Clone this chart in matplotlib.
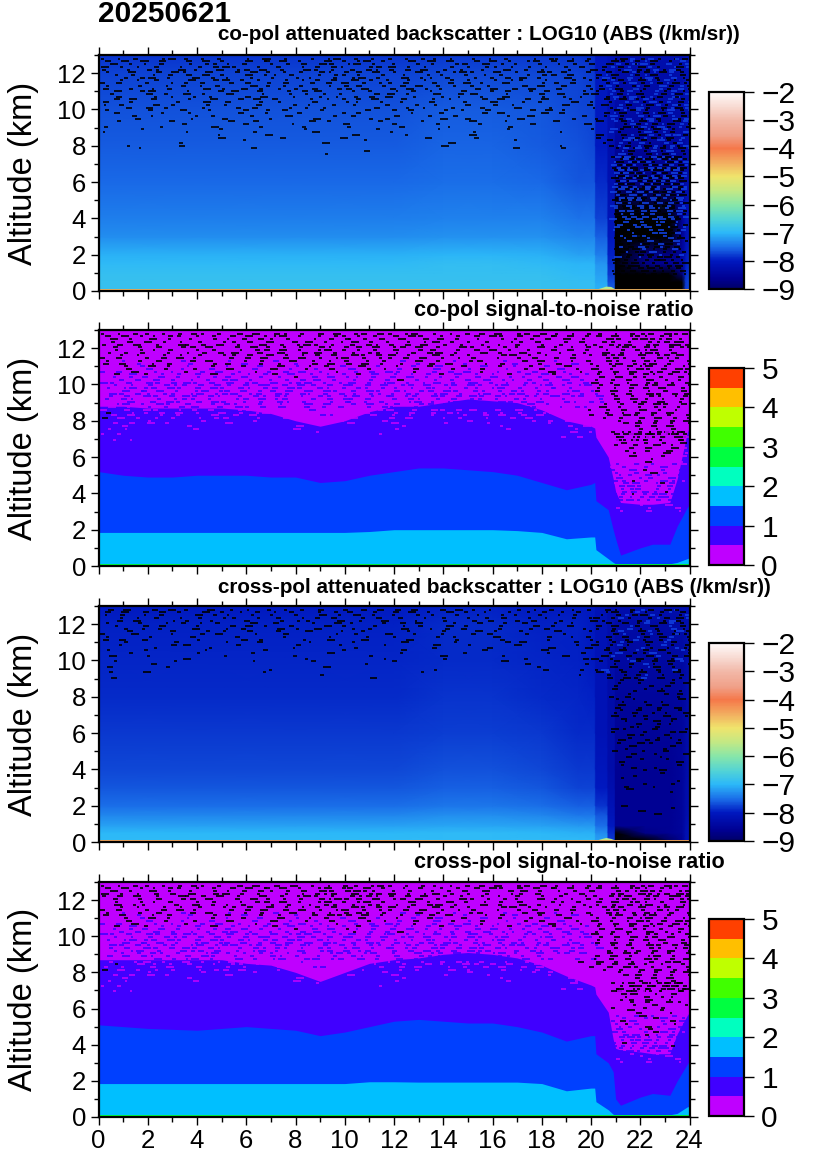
import numpy as np
import matplotlib
matplotlib.use('Agg')
import matplotlib.pyplot as plt
from matplotlib.colors import LinearSegmentedColormap, ListedColormap, BoundaryNorm, Normalize
from matplotlib.cm import ScalarMappable

plt.rcParams['font.family'] = ['Liberation Sans', 'DejaVu Sans']

W, H = 826, 1169

# backscatter fields, LOG10 values (below -9 shows black)
bs_hours = [0, 4, 8, 12, 14, 16, 18, 19.5, 20.15, 20.2, 20.65, 20.7, 20.95, 21.0, 22.2, 23.2, 23.7, 23.85, 24]
bs_alts = [0.1, 0.5, 0.9, 1.5, 2, 3, 4, 6, 8, 10, 12, 13]
copol_bs = [
    [-6.85, -6.85, -6.85, -6.85, -6.85, -6.85, -6.85, -6.9, -6.9, -7.05, -7.05, -7.6, -7.6, -10, -10, -10, -10, -7.8, -7.7],
    [-6.85, -6.85, -6.85, -6.85, -6.85, -6.85, -6.85, -6.9, -6.9, -7.1, -7.1, -7.7, -7.7, -10, -10, -10, -9.6, -7.8, -7.7],
    [-6.88, -6.88, -6.88, -6.88, -6.88, -6.88, -6.88, -6.95, -6.95, -7.15, -7.15, -7.8, -7.8, -10, -10, -9.5, -8.9, -7.9, -7.75],
    [-6.95, -6.95, -6.95, -6.95, -6.92, -6.92, -6.95, -7.02, -7.02, -7.25, -7.25, -7.9, -7.9, -9.3, -8.7, -8.6, -8.5, -8.0, -7.85],
    [-7.05, -7.05, -7.05, -7.05, -7.02, -7.02, -7.05, -7.15, -7.15, -7.4, -7.4, -7.95, -7.95, -9.3, -8.8, -8.7, -8.5, -8.1, -7.9],
    [-7.3, -7.3, -7.3, -7.3, -7.27, -7.27, -7.27, -7.35, -7.35, -7.6, -7.6, -8.05, -8.05, -9.3, -9.2, -9.2, -8.6, -8.2, -8.0],
    [-7.4, -7.4, -7.4, -7.4, -7.37, -7.37, -7.37, -7.47, -7.47, -7.75, -7.75, -8.1, -8.1, -9.1, -9.1, -9.1, -8.6, -8.2, -8.0],
    [-7.55, -7.55, -7.55, -7.55, -7.5, -7.5, -7.55, -7.65, -7.65, -7.9, -7.9, -8.2, -8.2, -8.8, -8.8, -8.8, -8.6, -8.3, -8.1],
    [-7.62, -7.62, -7.62, -7.62, -7.57, -7.57, -7.62, -7.67, -7.72, -8.0, -8.0, -8.25, -8.25, -8.5, -8.5, -8.5, -8.45, -8.35, -8.15],
    [-7.68, -7.68, -7.68, -7.68, -7.62, -7.62, -7.66, -7.72, -7.76, -8.0, -8.0, -8.2, -8.2, -8.35, -8.35, -8.35, -8.3, -8.2, -8.05],
    [-7.76, -7.76, -7.76, -7.76, -7.72, -7.72, -7.72, -7.76, -7.8, -8.0, -8.0, -8.15, -8.15, -8.3, -8.3, -8.3, -8.25, -8.15, -8.0],
    [-7.85, -7.85, -7.85, -7.85, -7.8, -7.8, -7.8, -7.85, -7.9, -8.05, -8.05, -8.15, -8.15, -8.25, -8.25, -8.25, -8.2, -8.15, -8.0],
]
cross_bs = [
    [-6.95, -6.95, -6.95, -6.95, -6.95, -6.95, -6.95, -6.95, -6.95, -7.15, -7.15, -7.8, -7.8, -10, -9.6, -9.0, -8.6, -8.2, -8.1],
    [-7.0, -7.0, -7.0, -7.0, -6.97, -6.97, -7.0, -7.05, -7.05, -7.3, -7.3, -7.9, -7.9, -9.5, -8.7, -8.6, -8.5, -8.2, -8.1],
    [-7.15, -7.15, -7.15, -7.15, -7.12, -7.12, -7.15, -7.2, -7.2, -7.5, -7.5, -8.0, -8.0, -8.6, -8.6, -8.6, -8.5, -8.25, -8.1],
    [-7.35, -7.35, -7.35, -7.35, -7.3, -7.3, -7.35, -7.45, -7.45, -7.65, -7.65, -8.1, -8.1, -8.6, -8.6, -8.6, -8.5, -8.3, -8.15],
    [-7.5, -7.5, -7.5, -7.5, -7.45, -7.45, -7.5, -7.6, -7.6, -7.85, -7.85, -8.15, -8.15, -8.6, -8.6, -8.6, -8.5, -8.3, -8.2],
    [-7.65, -7.65, -7.65, -7.65, -7.6, -7.6, -7.65, -7.75, -7.75, -8.0, -8.0, -8.25, -8.25, -8.6, -8.6, -8.6, -8.5, -8.3, -8.2],
    [-7.72, -7.72, -7.72, -7.72, -7.68, -7.68, -7.72, -7.82, -7.82, -8.05, -8.05, -8.3, -8.3, -8.6, -8.6, -8.6, -8.5, -8.35, -8.2],
    [-7.82, -7.82, -7.82, -7.82, -7.78, -7.78, -7.82, -7.88, -7.9, -8.15, -8.15, -8.3, -8.3, -8.55, -8.55, -8.55, -8.5, -8.35, -8.2],
    [-7.88, -7.88, -7.88, -7.88, -7.83, -7.83, -7.88, -7.93, -7.95, -8.15, -8.15, -8.3, -8.3, -8.5, -8.5, -8.5, -8.45, -8.35, -8.2],
    [-7.93, -7.93, -7.93, -7.93, -7.88, -7.88, -7.93, -7.95, -8.0, -8.15, -8.15, -8.3, -8.3, -8.4, -8.4, -8.4, -8.4, -8.3, -8.2],
    [-7.95, -7.95, -7.95, -7.95, -7.9, -7.9, -7.95, -7.95, -8.0, -8.15, -8.15, -8.25, -8.25, -8.35, -8.35, -8.35, -8.3, -8.25, -8.15],
    [-8.0, -8.0, -8.0, -8.0, -7.95, -7.95, -8.0, -8.0, -8.0, -8.15, -8.15, -8.25, -8.25, -8.25, -8.25, -8.25, -8.25, -8.25, -8.15],
]
copol_surface = -4.6
cross_surface = -4.45
hump_hours = [20.2, 20.45, 20.6, 20.8, 21.0]
copol_hump = [0.1, 0.2, 0.27, 0.25, 0.1]
cross_hump = [0.1, 0.2, 0.25, 0.2, 0.1]

# SNR band tops (km)
snr_hours = [0, 1, 2, 3, 4, 5, 6, 7, 8, 9, 10, 11, 12, 13, 14, 15, 16, 17, 18, 19, 20,
             20.15, 20.2, 20.7, 20.9, 21, 21.2, 22, 22.5, 23.2, 23.5, 23.9, 24]
co_top_2 = [1.85, 1.85, 1.85, 1.85, 1.85, 1.85, 1.85, 1.85, 1.85, 1.85, 1.85, 1.9, 2.0, 2.0, 2.0, 2.0, 2.0, 1.95, 1.85, 1.5, 1.6,
            1.6, 0.9, 0.4, 0.2, 0.12, 0.12, 0.12, 0.12, 0.12, 0.2, 0.4, 0.45]
co_top_15 = [5.2, 5.0, 4.9, 4.9, 5.0, 5.0, 5.0, 4.9, 4.9, 4.6, 4.7, 5.0, 5.2, 5.4, 5.4, 5.3, 5.2, 5.0, 4.6, 4.2, 4.5,
             4.6, 3.6, 3.1, 2.0, 1.5, 0.6, 1.0, 1.2, 1.2, 2.2, 3.2, 3.4]
co_top_1 = [8.8, 8.8, 8.7, 8.7, 8.7, 8.7, 8.6, 8.4, 8.0, 7.7, 8.0, 8.5, 8.8, 8.8, 9.0, 9.2, 9.1, 9.0, 8.6, 8.0, 7.7,
            7.6, 7.1, 6.0, 4.8, 4.1, 3.5, 3.4, 3.4, 3.5, 4.8, 7.3, 7.7]
cr_top_2 = [1.85, 1.85, 1.85, 1.85, 1.85, 1.85, 1.85, 1.85, 1.85, 1.85, 1.85, 1.95, 1.95, 1.93, 1.93, 1.93, 1.93, 1.93, 1.85, 1.45, 1.6,
            1.6, 0.85, 0.4, 0.15, 0.12, 0.12, 0.12, 0.12, 0.12, 0.2, 0.55, 0.6]
cr_top_15 = [5.1, 5.0, 4.9, 4.85, 4.8, 4.9, 5.0, 4.9, 4.8, 4.5, 4.7, 5.0, 5.3, 5.4, 5.3, 5.2, 5.2, 5.0, 4.7, 4.2, 4.5,
             4.5, 3.5, 3.0, 2.5, 1.0, 0.65, 1.1, 1.3, 1.2, 2.0, 2.9, 3.1]
cr_top_1 = [8.7, 8.7, 8.7, 8.7, 8.7, 8.7, 8.5, 8.4, 8.0, 7.5, 8.0, 8.5, 8.7, 8.8, 9.0, 9.1, 9.0, 8.8, 8.4, 7.8, 7.3,
            7.2, 6.8, 5.8, 4.3, 3.8, 3.7, 3.6, 3.5, 3.5, 4.6, 5.6, 5.8]

colorbar_ticks_bs = [-9, -8, -7, -6, -5, -4, -3, -2]
colorbar_ticks_snr = [0, 1, 2, 3, 4, 5]
snr_colors = ['#BF00FF', '#4000FF', '#0040FF', '#00BFFF', '#00FFBF', '#00FF40', '#40FF00', '#BFFF00', '#FFBF00', '#FF4000']

# noise marks, one character per 20 min: '#' no signal, 'b' blue/violet, 'm' magenta
spk_alts = [12.8, 12.5, 12.2, 11.9, 11.6, 11.3, 11.0, 10.7, 10.4, 10.1, 9.8, 9.5, 9.2, 8.9, 8.6, 8.3, 8.0, 7.7, 7.4, 7.1]
copol_spk = [
    "#.#.#..##.#.#.#..#.##.#..#.##.#.#..#.#.##.#..#.#.#..#.##.#.#..##b#b#.#b#",
    ".#.#.#.#..#.##.#.#..#.#.#.##..##.#.#..#.#..##.#.#.#..#.#.#.#.#b#b#b#.b#b",
    "#..#.##..#.#..#.##.#.#..#.#.#.#.##.#.#.#.#.#..#..#.#.#..#..#.#.#b##b#b#.",
    ".#.#..#.#.#.#.#..#.#.#.#..#.##.#..#.#..#.#..#.#.#..#.#.#.#..#b#.b#b#.b#b",
    "..#.#.#...#..#.#.#.#..#.#.#.#.#.#.#..#.#..#.#..#.#.#..#..#.#.#b#b#b#b#.#",
    "#...#..#.#..#.#...#.#.#.#..#.#.#..#.#.#.#.#..#.#...#.#..#..##b#.#b#.b#b#",
    ".#..#.#...#...#.#..#..#.#.#...#.#..#.#..#...#..#.#..#.#...#.#.b#b#.b#b#b",
    "..#...#.#..#.#...#.#...#..#.#.#.#.#...#..#.#..#..#...#..#.#..#b#b#b#.b#.",
    "#..#.....#..#..#...#.#...#...#.#..#.#...#...#..#...#.#...#.#.#.b#b#b#b#b",
    "...#.#.#....#...#.#...#.#..#.....#...#.#..#...#...#...#....#..#b#b#.#b#b",
    ".#.....#..#.....#...#...#....#.#.....#...#....#.#....#..#....#b#.b#b#b#.",
    "....#.....#...#.....#.....#.....#.#......#..#......#.....#..#.b#b#b#.b#b",
    "..........#......#.....#.....#.....#....#.....#.....#......#...#b#b#b#b#",
    "....#.........#.........#........#.......#.......#.........#..b#.#b#b#.b",
    "..............#.....#.........#......#.......#..............#..#b#b#b#b#b",
    ".................#..............#.................#..........#.b#b#.b#b.",
    "...#.....#...............................#.............#......#b#b#b#b#b#",
    "................................#..............................b#.#b#b#b",
]
cross_spk = [
    ".#.#..#.#.#..#.#.#..#.#.#.#..#.#.#..#.#..#.#.#.#..#.#.#..#.#.##.#b#.#b#.",
    "#.#..#.#...#.#.#..#.#..#..#.#..#.#.#..#.#..#.#..#.#..#.#.#..#.#b#.#b#.#b",
    "..#.#...#.#..#...#...#.#.#...#.#..#...#..#...#.#..#.#..#...#.#.#.#b.#b#.",
    ".#...#.#...#...#.#.#...#...#.#...#..#.#...#.#...#...#.#..#..#.#.b#.#.b#.",
    "...#....#...#.#...#..#...#...#.#.....#...#...#.#...#...#...#..#b.#b#.#b#",
    "#....#.....#....#.....#....#....#..#....#.#.....#.....#..#.#.#.#.b#.#b.#",
    "..#......#.....#...#.....#....#.....#......#.....#.#.....#..#.#b#.#.b#.#",
    "......#......#.........#......#.........#......#......#....#.#.#.b#.#.b#",
    "...#.......#......#........#........#.......#.........#...#..#b.#.#b.#.#",
    "..........#.............#.........#......#.........#......#.#.#.b#.#.#b.",
    "......#.........................#..................#.......#..#.#.b#.#.#",
    "....................#...................#.............#...#.#b.#.#.#.b#.",
    "..........................#...............................#..#.#.#b.#.#.",
    "...............................................................#.#...#.#.",
    "..............................................................#...#.#...#",
    "................................................................#...#.#..",
    "..............................................................#.#.....#.#",
    "...............................................................#..#.#....",
]
copol_snr_spk = [
    "#.#.##.#.#.##.#.#.#..##.#.#.#.##.#.#.##.#.#.#.#.#.##.#.#.#.##.#.###.##.#",
    ".#.#..#.#.#..#.#.#.##.#..#.#.##.#.#.#..#.#.#.#..#.#.#.#.#.#..##.#.#####.",
    "#.#.#.#..##.#.#.#..#.#.##.#.#.#.##.#.#.#.#.#..#.#.#..#.#..#.#.###.##.###",
    ".#..#.#.#..#.#..#.#.#.#.#.##.#.#.#.#..#.#..#.#.#.#.#...#.#.#.#.#.###.#.#",
    "..#.#..#.#.#..#.#.#.#.#.#.#.#.##.#.#.#..#.#.#...#.#.#.#..#.#.###.#.##.#.",
    "#.b.#.#..b.#.#.b.#.#.b.#.#.#.#..#.#.b.#.#.b.#.#..b.#.#.b.#.#.##.#.##.#.#",
    "..#.b.#.#.b..#.b.#.b.#.b.#.#.b.#.b.#.b.#.b..#.b.#.b.#.b.#...#.#.###.#.##",
    "b.b.#.b.b.#.b.b.b.#.b.b.b.b.#.b.b.b.b.#.b.b.b.#.b.b.b.#.b.#.#.#.#.##.#.#",
    ".b.b.b.b.b.b.b.b.b.b.b.#.b.b.b.b.b.b.b.b.b.b.b.b.b.b.b.b.b..#.#.#.#.#.#.",
    "bb.b.bb.b.bb.b.b.bb.b.bb.b.b.bb.b.bb.b.bb.b.bb.b.b.bb.b.b.b.#.#.#.##.#.#",
    "b.bb.bb.bb.b.bb.bb.b.b.bb.bb.b.bb.bb.b.bb.b.bb.bb.b.b.bb.b..#.#.#.#.#.#.",
    ".bb.bb.bb.bb.bb.b.bb.bb.bb.b.bb.bb.b.bb.bb.b.bb.bb.b.bb.b.b.b.#.#.##.#.#.",
    "b.bb..b.b.bb.b..bb.b.bb..b.b.bb.b..b.bb.b.b..bb.b.bb.b..b.m.b.#.#.#.#.#.",
    ".bb.b..bb.b..b.bb..b.b..bb.b..b.b.bb..b.b.bb.b..b.b.b.b.m.m..#.#.#.##.#.",
    "m..m.mm..m.m.m..mm.m..m.mb.m.mm..m.m..m.mm.m.m..m.m.m.m.m..#.#.#.#.#.#..",
    ".m.m...m.m...m..m.m...m.m.bb.m...m.m.m..m...m.m.m..m.m.m.m.#.#.#.#.#.#.#",
    ".....m......m.....m.....m....m....m.........m.......m.m.m.m....#.#.#.#.#",
    "..m.......m.............m...........m...........m........m.m...m.#.#.#.#.",
    "..........................m..............................m.m..m.#.#.#.#.",
    "........................................................m.m...#.#.#.#.#.",
]
cross_snr_spk = [
    "#.#.##.#.#.##.#.#.#..#.#.#.#.##.##.#.#.##.#.#.#.#.##.#.#.#.##.#.###.##.#",
    ".#.#..#.#.#..#.#.#.##.#.#.##.#.###.#.#..#.#.#.#..#.#.#.#.#.#..##.####.##",
    "#.#.#.#..##.#.#.#..#.#.##.#.#.####.#.#.#.#.#..#.#.#..#.#..#.#.###.##.###",
    ".#..#.#.#..#.#..#.#.#.#.#.##.#.##.#..#.#..#.#.#.#.#...#.#.#.#.#.###.#.#.",
    "..#.#..#.#.#..#.#.#.#.#.#.#.#.##.#.#.#..#.#.#...#.#.#.#..#.#.###.#.##.#.",
    "#.b.#.#..b.#.#.b.#.#.b.#.#.#.#.##.#.b.#.#.b.#.#..b.#.#.b.#.#.##.#.##.#.#",
    "..#.b.#.#.b..#.b.#.b.#.b.#.#.b.#.b.#.b.#.b..#.b.#.b.#.b.#...#.#.###.#.##",
    "b.b.#.b.b.#.b.b.b.#.b.b.b.b.#.b.b.b.b.#.b.b.b.#.b.b.b.#.b.#.#.#.#.##.#.#",
    ".b.b.b.b.b.b.b.b.b.b.b.#.b.b.#.b.b.b.b.b.b.b.b.b.b.b.b.b.b..#.#.#.#.#.#.",
    "bb.b.bb.b.bb.b.b.bb.b.bb.b.b.bb.b.bb.b.bb.b.bb.b.b.bb.b.b.b.#.#.#.##.#.#",
    "b.bb.bb.bb.b.bb.bb.b.b.bb.bb.b.bb.bb.b.bb.b.bb.bb.b.b.bb.b..#.#.#.#.#.#.",
    ".bb.bb.bb.bb.bb.b.bb.bb.bb.b.bb.bb.b.bb.bb.b.bb.bb.b.bb.b.b.b.#.#.##.#.#.",
    ".b.bb.b..b.bb.b.b.bb.b..b.bb.b.bb..b.b.bb.b.b.bb..b.bb.b.b.m.#.#.#.#.#.#",
    "b.b..bb.b.b.bb..b.b.bb.b..b.b.bb.b.b..bb.b.b..b.bb.b.b.m.m..#.#.#.##.#.#",
    ".m..mm.m..m.m.mm..m.m..mb.m.m..mm.m.m..m.m.mm.m..m.m.m.m..#.#.#.#.#.#.#.",
    "m.m...m.m..m...m.m...m.m.bb.m.m...m.m.m...m.m.m.m..m.m.m.m.#.#.#.#.#.#.#",
    ".....m......m.....m.....m....m....m.........m.......m.m.m.m....#.#.#.#.#",
    "..m.......m.............m...........m...........m........m.m...m.#.#.#.#.",
    "..........................m..............................m.m..m.#.#.#.#.",
    "........................................................m.m...#.#.#.#.#.",
]
# right hand block below the grid above, one character per 12 min from 20.8 h
right_alts = [7.4, 7.1, 6.8, 6.5, 6.2, 5.9, 5.6, 5.3, 5.0, 4.7, 4.4, 4.1, 3.8, 3.5, 3.2, 2.9, 2.6, 2.3, 2.0, 1.7, 1.4, 1.1]
copol_right = [
    "#b#b#b.#b#b#b#.", "b#.b#b#b#.b#b#b", "#b#b#.#b#b#b#b#", "b#b#b#b.#b#.b#b", "#.b#b#b#b#b#b#.",
    "b#b#.b#b#.b#b#b", "#b#b#b#b#b#b.#b", ".b#.b#b.#b#b#b#", "#b#b#b#.b#.b#b.", "b.#b#b#b#b#b#.b",
    "#b.b#.b#b#.b#b#", ".#b#b#b.#b#b#.b", "#.b.#b#.b#b.#b.", "b#.#.b#b.#.b#.b", ".#.#b.#.b#b.#b.",
    "#.b#.#.b.#.b.#.", ".#.#.b#.#b.#.b.", "#.#.#.b.#.#.b#.", ".#.#.#.#.b.#.b.", "#.#.#.#.#.#.#.#", ".#.#.#.#.#.#.#.", "#.#.#.#.#.#.#.#",
]
cross_right = [
    ".#...#...#...#.", "#...#...#.#...#", "..#...#.....#..", ".....#...#.#...", "#.#.....#.....#",
    "...#.#.....#...", ".#.....#.#...#.", "....#.......#..", "#.....#...#....", "...#.....#.....",
    ".#...........#.", "....#...#......", "..........#....", ".#.............", "......#.....#..",
    "...#...........", "...............", "...............", "..#............", ".....#.........", "...............", "...............",
]
copol_snr_right = [
    "#.#.m#.#.#.m#.#", ".#.m.#.m#.m.#.m", "m.#.m.#.m.#.m.#", ".m.#.m.#m.m.#.m", "m.m.#.m.m.#.m.m",
    ".m.m.m.#.m.m.m.", "b.m.b.m.b.m.b.m", "b.m.b.#.m.b.m.b", ".b.b.m.b.b.m.b.", "b.b.#.b.m.b.b.m",
    ".b.b.b.m.b.b.b.", "b.b.b.b.b.#.b.b", ".b.b.b.b.b.b.b.", "...m.....m.....", ".m.....m.....m.",
]
cross_snr_right = [
    "#.#.#.#.m#.#.#.", ".#.m.#.#.m.#.m#", "m.#.#.m.#.m.#.m", ".#.#.m.#.m.#.m.", "m.m.#.m.#.m.m.#",
    ".m.#.m.m.#.m.m.", "b.m.b.#.b.m.b.m", "b.#.b.m.m.b.#.b", ".b.b.m.#.b.m.b.", "b.b.m.b.#.b.b.m",
    ".b.b.b.b.b.b.b.", "b.#.b.b.b.b.b.b", ".b.b.b.b.b.b.b.", "...m.....m.....", ".m.....m.....m.",
]

panel_rects = [(98.5, 55, 689.5, 291), (98.5, 330, 689.5, 566), (98.5, 606, 689.5, 842), (98.5, 882, 689.5, 1117)]
cbar_rects = [(709, 92, 744, 289), (709, 368, 744, 565), (709, 643, 744, 841), (709, 919, 744, 1116)]
titles = ['co-pol attenuated backscatter : LOG10 (ABS (/km/sr))', 'co-pol signal-to-noise ratio',
          'cross-pol attenuated backscatter : LOG10 (ABS (/km/sr))', 'cross-pol signal-to-noise ratio']
title_pos = [(218, 40), (414, 316), (218, 593), (414, 868)]
title_sizes = [14.85, 15.7, 14.85, 15.6]

bs_cmap = LinearSegmentedColormap.from_list('bs', [
    (0.0, '#000068'), (0.05, '#000090'), (1/7, '#0018c0'), (0.21, '#1a6ce8'), (2/7, '#2cb8f8'),
    (0.35, '#50d2d8'), (3/7, '#88e6a8'), (0.5, '#c4e884'), (4/7, '#f0e46c'), (0.64, '#f2ae60'),
    (5/7, '#f5784a'), (0.78, '#f0a088'), (6/7, '#f2b8a8'), (0.93, '#f8dcd4'), (1.0, '#fffafa')])
bs_cmap.set_under('black')
bs_norm = Normalize(-9, -2)
snr_cmap = ListedColormap(snr_colors)
snr_norm = BoundaryNorm(np.arange(0, 5.5, 0.5), 10)
speck_colors = {'#': 'black', 'b': '#4000FF', 'm': '#BF00FF'}
speck_colors_bs = {'#': 'black', 'b': '#1040e0', 'm': '#BF00FF'}
dash_half_widths = [0.07, 0.12, 0.05, 0.16, 0.09]
row_shifts = [0.0, 0.43, 0.17, 0.71, 0.29, 0.57, 0.86]


def px_axes(fig, rect):
    l, t, r, b = rect
    return fig.add_axes([l / W, 1 - b / H, (r - l) / W, (b - t) / H])


def lay_row(ax, row, alt, start, step, colors, k):
    for i, c in enumerate(row):
        if c == '.':
            continue
        x = start + (i + 0.5 + row_shifts[(k + i // 5) % 7]) * step
        w = dash_half_widths[(i + k * 2) % 5]
        ax.hlines(alt, x - w, x + w, colors=colors[c], linewidth=1.2, zorder=3)


def draw_specks(ax, rows, alts, start, step, colors):
    # each typed row goes down twice, the second time half a row lower and mirrored left of 20 h
    row_gap = abs(alts[0] - alts[1]) / 2
    for k, (row, alt) in enumerate(zip(rows, alts)):
        lay_row(ax, row, alt, start, step, colors, k)
        second = row[:60][::-1] + row[60:]
        lay_row(ax, second, alt - row_gap, start, step, colors, k + 3)


def style_panel(ax, show_x):
    ax.set_xlim(0, 24)
    ax.set_ylim(0, 13)
    ax.set_xticks(np.arange(0, 25, 2))
    ax.set_xticks(np.arange(0, 25, 1), minor=True)
    ax.set_yticks(np.arange(0, 13, 2))
    ax.set_yticks(np.arange(0, 14, 1), minor=True)
    ax.tick_params(which='major', direction='out', length=6, width=1, top=True, right=True,
                   labelsize=18.5, pad=3, labelbottom=show_x)
    ax.tick_params(which='minor', direction='out', length=3.5, width=1, top=True, right=True)
    ax.set_ylabel('Altitude (km)', fontsize=23.5, labelpad=6)
    ax.yaxis.set_label_coords(-0.1, 0.5)
    for s in ax.spines.values():
        s.set_linewidth(1.6)
        s.set_zorder(5)


def add_cbar(fig, rect, mappable, ticks):
    cax = px_axes(fig, rect)
    cb = fig.colorbar(mappable, cax=cax, ticks=ticks)
    cb.ax.tick_params(length=7.5, width=1, labelsize=21.5, pad=5)
    cb.ax.minorticks_off()
    cb.outline.set_linewidth(1.6)


def draw_backscatter(ax, field, surface, hump, right, spk):
    ax.pcolormesh(bs_hours, bs_alts, np.array(field), cmap=bs_cmap, norm=bs_norm, shading='gouraud', zorder=1)
    draw_specks(ax, spk, spk_alts, 0, 1 / 3, speck_colors_bs)
    draw_specks(ax, right, right_alts, 20.8, 0.2, speck_colors_bs)
    ax.fill_between(hump_hours, 0, hump, color=bs_cmap(bs_norm(-5.6)), linewidth=0, zorder=4)
    ax.axhspan(0, 0.1, color=bs_cmap(bs_norm(surface)), linewidth=0, zorder=4)


def draw_snr(ax, top_2, top_15, top_1, right, spk):
    ax.set_facecolor(snr_colors[0])
    ax.fill_between(snr_hours, 0, top_1, color=snr_colors[1], linewidth=0, zorder=1)
    ax.fill_between(snr_hours, 0, top_15, color=snr_colors[2], linewidth=0, zorder=1)
    ax.fill_between(snr_hours, 0, top_2, color=snr_colors[3], linewidth=0, zorder=1)
    draw_specks(ax, spk, spk_alts, 0, 1 / 3, speck_colors)
    draw_specks(ax, right, right_alts, 20.8, 0.2, speck_colors)
    ax.axhspan(0, 0.1, color=snr_colors[5], linewidth=0, zorder=4)


fig = plt.figure(figsize=(W / 100, H / 100), dpi=100)
axes = [px_axes(fig, r) for r in panel_rects]

draw_backscatter(axes[0], copol_bs, copol_surface, copol_hump, copol_right, copol_spk)
draw_snr(axes[1], co_top_2, co_top_15, co_top_1, copol_snr_right, copol_snr_spk)
draw_backscatter(axes[2], cross_bs, cross_surface, cross_hump, cross_right, cross_spk)
draw_snr(axes[3], cr_top_2, cr_top_15, cr_top_1, cross_snr_right, cross_snr_spk)

for i, ax in enumerate(axes):
    style_panel(ax, i == 3)
    fig.text(title_pos[i][0] / W, 1 - title_pos[i][1] / H, titles[i], fontsize=title_sizes[i], fontweight='bold', va='baseline')

bs_sm = ScalarMappable(norm=bs_norm, cmap=bs_cmap)
snr_sm = ScalarMappable(norm=snr_norm, cmap=snr_cmap)
add_cbar(fig, cbar_rects[0], bs_sm, colorbar_ticks_bs)
add_cbar(fig, cbar_rects[1], snr_sm, colorbar_ticks_snr)
add_cbar(fig, cbar_rects[2], bs_sm, colorbar_ticks_bs)
add_cbar(fig, cbar_rects[3], snr_sm, colorbar_ticks_snr)

fig.text(98 / W, 1 - 22 / H, '20250621', fontsize=21.5, fontweight='bold', va='baseline')

fig.savefig('out.png', dpi=100)
